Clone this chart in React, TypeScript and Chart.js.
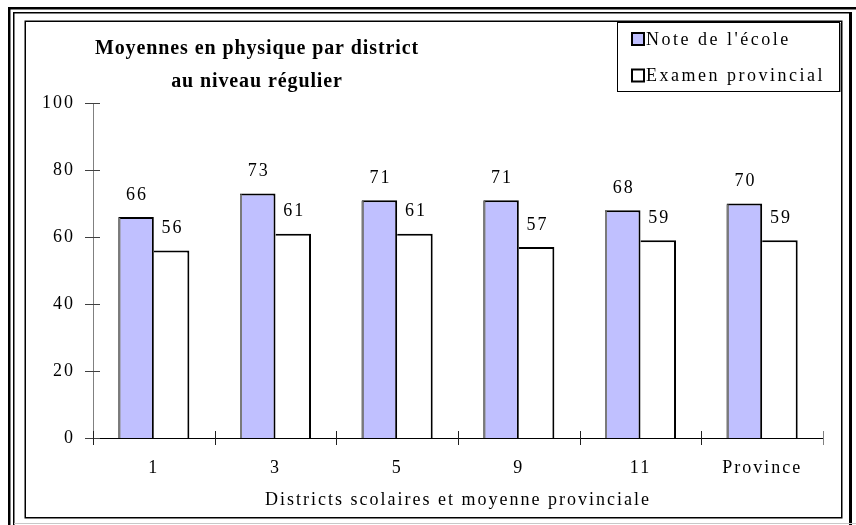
import React, { useEffect, useRef } from 'react';
import { Chart, registerables } from 'chart.js';

Chart.register(...registerables);

const categories = ['1', '3', '5', '9', '11', 'Province'];
const schoolScores = [66, 73, 71, 71, 68, 70];
const provincialExam = [56, 61, 61, 57, 59, 59];
const yTickValues = [0, 20, 40, 60, 80, 100];
const seriesLabels = ["Note de l'école", 'Examen provincial'];
const titleLines = ['Moyennes en physique par district', 'au niveau régulier'];
const xAxisTitle = 'Districts scolaires et moyenne provinciale';

const SERIF = '"Liberation Serif", "Times New Roman", serif';
const BLUE = '#C0C0FF';

const framePlugin = {
  id: 'frame',
  beforeLayout(chart: any) {
    chart.ctx.letterSpacing = '2px';
  },
  beforeDraw(chart: any) {
    const ctx = chart.ctx as CanvasRenderingContext2D;
    ctx.save();
    ctx.fillStyle = '#fff';
    ctx.fillRect(0, 0, chart.width, chart.height);
    ctx.strokeStyle = '#000';
    ctx.lineWidth = 2.5;
    ctx.beginPath();
    ctx.moveTo(9.25, 525);
    ctx.lineTo(9.25, 8.25);
    ctx.lineTo(856, 8.25);
    ctx.stroke();
    ctx.lineWidth = 1.5;
    ctx.beginPath();
    ctx.moveTo(13.75, 525);
    ctx.lineTo(13.75, 12.75);
    ctx.lineTo(850, 12.75);
    ctx.stroke();
    ctx.lineWidth = 3;
    ctx.beginPath();
    ctx.moveTo(850.5, 12);
    ctx.lineTo(850.5, 525);
    ctx.stroke();
    ctx.strokeStyle = '#c8c8c8';
    ctx.lineWidth = 1;
    ctx.beginPath();
    ctx.moveTo(14, 523.5);
    ctx.lineTo(856, 523.5);
    ctx.stroke();
    ctx.strokeStyle = '#000';
    ctx.lineWidth = 1.5;
    ctx.strokeRect(25.25, 21.25, 816.5, 496.5);
    ctx.restore();
    ctx.letterSpacing = '2px';
  },
};

const decorPlugin = {
  id: 'decor',
  afterDatasetsDraw(chart: any) {
    const ctx = chart.ctx as CanvasRenderingContext2D;
    ctx.save();
    // gray shading on the left edge of the filled bars
    const meta0 = chart.getDatasetMeta(0);
    ctx.strokeStyle = '#7a7a7a';
    ctx.lineWidth = 2;
    meta0.data.forEach((el: any) => {
      const l = el.x - el.width / 2 + 1;
      ctx.beginPath();
      ctx.moveTo(l, el.y + 1);
      ctx.lineTo(l, el.base);
      ctx.stroke();
    });
    // value labels
    ctx.letterSpacing = '2px';
    ctx.font = `18px ${SERIF}`;
    ctx.fillStyle = '#000';
    ctx.textAlign = 'center';
    ctx.textBaseline = 'middle';
    chart.data.datasets.forEach((ds: any, di: number) => {
      const meta = chart.getDatasetMeta(di);
      meta.data.forEach((el: any, i: number) => {
        ctx.fillText(String(ds.data[i]), el.x + 1, el.y - 22);
      });
    });
    ctx.restore();
  },
  afterDraw(chart: any) {
    const ctx = chart.ctx as CanvasRenderingContext2D;
    const xs = chart.scales.x;
    const ys = chart.scales.y;
    const left = chart.chartArea.left;
    const zeroY = ys.getPixelForValue(0);
    ctx.save();
    ctx.strokeStyle = '#404040';
    ctx.lineWidth = 1;
    yTickValues.forEach((v) => {
      const py = Math.round(ys.getPixelForValue(v)) + 0.5;
      ctx.beginPath();
      ctx.moveTo(left - 8, py);
      ctx.lineTo(left + 7, py);
      ctx.stroke();
    });
    const half = (xs.getPixelForValue(1) - xs.getPixelForValue(0)) / 2;
    for (let i = 0; i <= categories.length; i++) {
      const px = Math.round(xs.getPixelForValue(0) - half + i * 2 * half) + 0.5;
      ctx.strokeStyle = i === categories.length ? '#808080' : '#202020';
      ctx.beginPath();
      ctx.moveTo(px, zeroY - 7);
      ctx.lineTo(px, zeroY + 7);
      ctx.stroke();
    }
    // title
    ctx.fillStyle = '#000';
    ctx.textAlign = 'center';
    ctx.textBaseline = 'middle';
    ctx.font = `bold 20px ${SERIF}`;
    ctx.letterSpacing = '0.9px';
    ctx.fillText(titleLines[0], 257, 49);
    ctx.fillText(titleLines[1], 257, 82);
    // legend
    ctx.fillStyle = '#fff';
    ctx.fillRect(617, 22, 223, 70);
    ctx.strokeStyle = '#000';
    ctx.lineWidth = 1;
    ctx.strokeRect(617.5, 22.5, 222, 69);
    ctx.strokeStyle = '#909090';
    ctx.beginPath();
    ctx.moveTo(840.5, 23);
    ctx.lineTo(840.5, 92);
    ctx.stroke();
    ctx.font = `18px ${SERIF}`;
    ctx.letterSpacing = '2.5px';
    ctx.textAlign = 'left';
    chart.data.datasets.forEach((ds: any, di: number) => {
      const cy = 39 + di * 36.5;
      ctx.fillStyle = ds.backgroundColor;
      ctx.fillRect(632, cy - 6, 12, 12);
      ctx.strokeStyle = '#000';
      ctx.lineWidth = 2;
      ctx.strokeRect(632, cy - 6, 12, 12);
      ctx.fillStyle = '#000';
      ctx.fillText(ds.label, 646, cy + 1);
    });
    ctx.restore();
  },
};

export default function App() {
  const ref = useRef<HTMLCanvasElement>(null);
  useEffect(() => {
    if (!ref.current) return;
    Chart.defaults.font.family = SERIF;
    Chart.defaults.color = '#000';
    const chart = new Chart(ref.current, {
      type: 'bar',
      data: {
        labels: categories,
        datasets: [
          {
            label: seriesLabels[0],
            data: schoolScores,
            backgroundColor: BLUE,
            borderColor: '#000',
            borderWidth: { top: 2, left: 2, right: 2, bottom: 0 },
            borderSkipped: false,
            categoryPercentage: 0.584,
            barPercentage: 1,
          },
          {
            label: seriesLabels[1],
            data: provincialExam,
            backgroundColor: '#ffffff',
            borderColor: '#000',
            borderWidth: { top: 2, left: 0, right: 2, bottom: 0 },
            borderSkipped: false,
            categoryPercentage: 0.584,
            barPercentage: 1,
          },
        ],
      },
      options: {
        responsive: false,
        animation: false,
        devicePixelRatio: 1,
        layout: { padding: { left: 0, right: 33, top: 103, bottom: 0 } },
        plugins: {
          legend: { display: false },
          title: { display: false },
          tooltip: { enabled: false },
        },
        scales: {
          x: {
            type: 'category',
            offset: true,
            z: 1,
            grid: { display: false, drawTicks: false },
            border: { display: true, color: '#000', width: 1 },
            ticks: { font: { size: 18, family: SERIF }, color: '#000', padding: 19 },
            title: {
              display: true,
              text: xAxisTitle,
              font: { size: 18, family: SERIF },
              color: '#000',
              padding: { top: 0, bottom: 14 },
            },
            afterFit: (s: any) => {
              s.height = 87;
            },
          },
          y: {
            min: 0,
            max: 100,
            grid: { display: false, drawTicks: false },
            border: { display: true, color: '#808080', width: 1 },
            ticks: {
              stepSize: 20,
              font: { size: 18, family: SERIF },
              color: '#000',
              padding: 18,
            },
            afterFit: (s: any) => {
              s.width = 93;
            },
          },
        },
      },
      plugins: [framePlugin, decorPlugin],
    });
    return () => chart.destroy();
  }, []);
  return (
    <div style={{ position: 'absolute', left: 0, top: 0, width: 856, height: 525 }}>
      <canvas ref={ref} width={856} height={525} style={{ width: 856, height: 525, display: 'block' }} />
    </div>
  );
}
